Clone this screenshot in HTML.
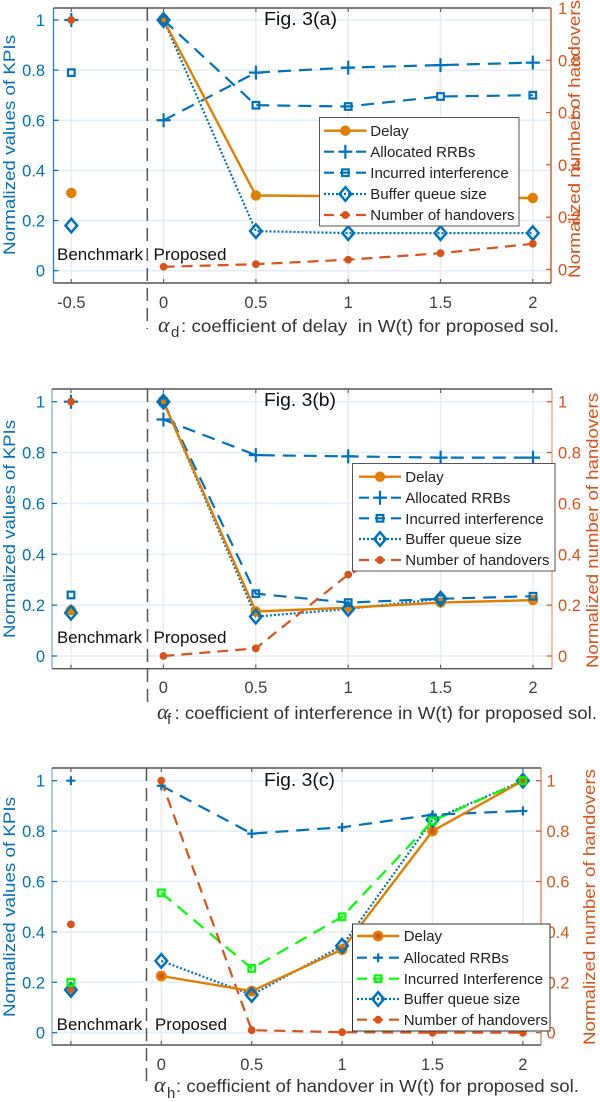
<!DOCTYPE html>
<html>
<head>
<meta charset="utf-8">
<title>Fig. 3 KPI charts</title>
<style>
html,body{margin:0;padding:0;background:#fff;}
svg{display:block;font-family:"Liberation Sans",sans-serif;}
.tt{font-size:17px;fill:#0072BD;}
.rt{font-size:17px;fill:#D95319;}
.ann{font-size:16.5px;fill:#111;}
.fig{font-size:18px;fill:#111;}
.leg{font-size:15px;fill:#222;}
.xl{font-size:17.5px;fill:#333;white-space:pre;}
.al{font-family:"Liberation Serif",serif;font-style:italic;font-size:22px;}
.sb{font-size:15px;}
</style>
</head>
<body>
<svg id="chart" xmlns="http://www.w3.org/2000/svg" width="600" height="1102" viewBox="0 0 600 1102">
  <rect x="0" y="0" width="600" height="1102" fill="#fff"/>

  <g id="panel-a">
    <g id="frame-a"></g>
    <g id="marks-a"></g>
    <text class="ann" x="57" y="260" textLength="86" lengthAdjust="spacingAndGlyphs">Benchmark</text>
    <text class="ann" x="153.5" y="260" textLength="73" lengthAdjust="spacingAndGlyphs">Proposed</text>
    <text class="fig" x="264" y="25" textLength="73" lengthAdjust="spacingAndGlyphs">Fig. 3(a)</text>
    <text class="tt" transform="translate(15,255) rotate(-90)" textLength="220" lengthAdjust="spacingAndGlyphs">Normalized values of KPIs</text>
    <text class="rt" transform="translate(580,278) rotate(-90)" textLength="278" lengthAdjust="spacingAndGlyphs">Normalized number of handovers</text>
    <text class="xl"><tspan class="al" x="158" y="332">α</tspan><tspan class="sb" x="171" y="337">d</tspan><tspan x="181" y="332" textLength="378" lengthAdjust="spacingAndGlyphs">: coefficient of delay  in W(t) for proposed sol.</tspan></text>
    <rect x="319.5" y="117.5" width="199.5" height="108.5" fill="#fff" stroke="#555" stroke-width="1"/>
    <g id="legend-a"></g>
    <text class="leg" x="370.3" y="136">Delay</text>
    <text class="leg" x="370.3" y="157">Allocated RRBs</text>
    <text class="leg" x="370.3" y="178">Incurred interference</text>
    <text class="leg" x="370.3" y="199">Buffer queue size</text>
    <text class="leg" x="370.3" y="220">Number of handovers</text>
  </g>

  <g id="panel-b">
    <g id="frame-b"></g>
    <g id="marks-b"></g>
    <text class="ann" x="57" y="643" textLength="85" lengthAdjust="spacingAndGlyphs">Benchmark</text>
    <text class="ann" x="153.5" y="643" textLength="73" lengthAdjust="spacingAndGlyphs">Proposed</text>
    <text class="fig" x="264" y="406" textLength="72" lengthAdjust="spacingAndGlyphs">Fig. 3(b)</text>
    <text class="tt" transform="translate(15,638) rotate(-90)" textLength="218" lengthAdjust="spacingAndGlyphs">Normalized values of KPIs</text>
    <text class="rt" transform="translate(598,668) rotate(-90)" textLength="275" lengthAdjust="spacingAndGlyphs">Normalized number of handovers</text>
    <text class="xl"><tspan class="al" x="157" y="719">α</tspan><tspan class="sb" x="167" y="724">f</tspan><tspan x="174.5" y="719" textLength="422.5" lengthAdjust="spacingAndGlyphs">: coefficient of interference in W(t) for proposed sol.</tspan></text>
    <rect x="352.5" y="463.5" width="202.5" height="107.5" fill="#fff" stroke="#555" stroke-width="1"/>
    <g id="legend-b"></g>
    <text class="leg" x="405.3" y="482">Delay</text>
    <text class="leg" x="405.3" y="503">Allocated RRBs</text>
    <text class="leg" x="405.3" y="524">Incurred interference</text>
    <text class="leg" x="405.3" y="544">Buffer queue size</text>
    <text class="leg" x="405.3" y="565">Number of handovers</text>
  </g>

  <g id="panel-c">
    <g id="frame-c"></g>
    <g id="marks-c"></g>
    <text class="ann" x="56.7" y="1030" textLength="85.5" lengthAdjust="spacingAndGlyphs">Benchmark</text>
    <text class="ann" x="155" y="1030" textLength="72" lengthAdjust="spacingAndGlyphs">Proposed</text>
    <text class="fig" x="264" y="786" textLength="71" lengthAdjust="spacingAndGlyphs">Fig. 3(c)</text>
    <text class="tt" transform="translate(15,1017) rotate(-90)" textLength="220" lengthAdjust="spacingAndGlyphs">Normalized values of KPIs</text>
    <text class="rt" transform="translate(595,1045) rotate(-90)" textLength="276" lengthAdjust="spacingAndGlyphs">Normalized number of handovers</text>
    <text class="xl"><tspan class="al" x="154" y="1092">α</tspan><tspan class="sb" x="167" y="1098">h</tspan><tspan x="176" y="1092" textLength="403" lengthAdjust="spacingAndGlyphs">: coefficient of handover in W(t) for proposed sol.</tspan></text>
    <rect x="352.5" y="924" width="197.5" height="107" fill="#fff" stroke="#333" stroke-width="1"/>
    <g id="legend-c"></g>
    <text class="leg" x="403.7" y="941">Delay</text>
    <text class="leg" x="403.7" y="963">Allocated RRBs</text>
    <text class="leg" x="403.7" y="984">Incurred Interference</text>
    <text class="leg" x="403.7" y="1004">Buffer queue size</text>
    <text class="leg" x="403.7" y="1025">Number of handovers</text>
  </g>
</svg>

<script>
// ---- data ----
const xValues = [-0.5, 0, 0.5, 1, 1.5, 2];
const xTickLabelsA = ['-0.5', '0', '0.5', '1', '1.5', '2'];
const xTickLabelsB = ['', '0', '0.5', '1', '1.5', '2'];
const xTickLabelsC = ['', '0', '0.5', '1', '1.5', '2'];
const yTickValues = [0, 0.2, 0.4, 0.6, 0.8, 1];
const yTickLabels = ['0', '0.2', '0.4', '0.6', '0.8', '1'];

const aDelay = [0.31, 1, 0.30, 0.297, 0.293, 0.29];
const aRRB = [1, 0.60, 0.79, 0.81, 0.82, 0.83];
const aInterference = [0.79, 1, 0.66, 0.655, 0.695, 0.70];
const aBuffer = [0.18, 1, 0.158, 0.15, 0.15, 0.15];
const aHandovers = [0.954, 0.010, 0.020, 0.037, 0.062, 0.098];

const bDelay = [0.18, 1, 0.175, 0.19, 0.21, 0.22];
const bRRB = [1, 0.93, 0.79, 0.785, 0.78, 0.78];
const bInterference = [0.24, 1, 0.245, 0.21, 0.225, 0.235];
const bBuffer = [0.17, 1, 0.155, 0.185, 0.225, null];
const bHandovers = [1, 0, 0.03, 0.32, 0.5, 0.7];

const cDelay = [0.17, 0.225, 0.165, 0.33, 0.80, 1];
const cRRB = [1, 0.98, 0.79, 0.815, 0.865, 0.88];
const cInterference = [0.20, 0.555, 0.255, 0.46, 0.84, 1];
const cBuffer = [0.17, 0.285, 0.15, 0.345, 0.845, 1];
const cHandovers = [0.43, 1, 0.01, 0.002, 0, 0];

// ---- drawing ----
const NS = 'http://www.w3.org/2000/svg';
const BLUE = '#0072BD', RED = '#D95319', ORANGE = '#E07F00', GREEN = '#00FF00';

function mk(tag, attrs, parent) {
  const e = document.createElementNS(NS, tag);
  for (const k in attrs) e.setAttribute(k, attrs[k]);
  parent.appendChild(e);
  return e;
}

function seg(parent, x1, y1, x2, y2, color, width, name, dash) {
  const l = mk('line', {x1: x1, y1: y1, x2: x2, y2: y2, stroke: color, 'stroke-width': width}, parent);
  if (dash) l.setAttribute('stroke-dasharray', dash);
  
  
  return l;
}

function drawMarker(parent, kind, cx, cy, color, size, name) {
  const g = mk('g', {}, parent);
  
  
  if (kind === 'circle') {
    mk('circle', {cx: cx, cy: cy, r: 5.2, fill: color}, g);
  } else if (kind === 'circleDot') {
    mk('circle', {cx: cx, cy: cy, r: 5.4, fill: color}, g);
    mk('circle', {cx: cx, cy: cy, r: 2.8, fill: RED}, g);
  } else if (kind === 'dot') {
    mk('circle', {cx: cx, cy: cy, r: 3.9, fill: color}, g);
  } else if (kind === 'plus') {
    mk('path', {d: 'M' + (cx - size) + ' ' + cy + 'H' + (cx + size) + 'M' + cx + ' ' + (cy - size) + 'V' + (cy + size), stroke: color, 'stroke-width': 2.2, fill: 'none'}, g);
  } else if (kind === 'square') {
    mk('rect', {x: cx - 3.3, y: cy - 3.3, width: 6.6, height: 6.6, fill: 'none', stroke: color, 'stroke-width': 2.2}, g);
  } else if (kind === 'diamond') {
    mk('path', {d: 'M' + cx + ' ' + (cy - 6.8) + 'L' + (cx + 5.8) + ' ' + cy + 'L' + cx + ' ' + (cy + 6.8) + 'L' + (cx - 5.8) + ' ' + cy + 'Z', fill: 'none', stroke: color, 'stroke-width': 2.5}, g);
  }
  return g;
}

function drawPanel(id, box, xLabels, series, legendRows, legendLine, plusSize) {
  const xScale = function (v) { return box.x0 + (v / 0.5) * box.step; };
  const yLeft = function (v) { return box.y0 + (box.y1 - box.y0) * v; };
  const yRight = function (v) { return box.ry0 + (box.ry1 - box.ry0) * v; };
  const frame = document.getElementById('frame-' + id);
  const marks = document.getElementById('marks-' + id);
  const legend = document.getElementById('legend-' + id);

  // grid
  yTickValues.forEach(function (v) {
    seg(frame, box.left, yLeft(v), box.right, yLeft(v), '#E3EEF7', 1.6, 'grid-line-y');
  });
  xValues.forEach(function (v) {
    seg(frame, xScale(v), box.top, xScale(v), box.bottom, '#E9ECEF', 1.6, 'grid-line-x');
  });

  // axes
  seg(frame, box.left, box.top, box.left, box.bottom, box.leftColor, 1.4, 'y-axis-left');
  seg(frame, box.right, box.top, box.right, box.bottom, box.rightColor, 1.4, 'y-axis-right');
  seg(frame, box.left, box.bottom, box.right, box.bottom, '#555', 1.4, 'x-axis');
  seg(frame, box.left, box.top, box.right, box.top, '#555', 1.4, 'top-axis');

  // ticks and labels
  xValues.forEach(function (v, i) {
    seg(frame, xScale(v), box.bottom, xScale(v), box.bottom - 4, '#666', 1.2, 'x-tick');
    seg(frame, xScale(v), box.top, xScale(v), box.top + 4, '#666', 1.2, 'x-tick-top');
    if (xLabels[i]) {
      const t = mk('text', {x: xScale(v), y: box.xLabelY, 'text-anchor': 'middle', 'font-size': 16.5, fill: '#404040'}, frame);
      t.textContent = xLabels[i];
      
      
    }
  });
  yTickValues.forEach(function (v, i) {
    seg(frame, box.left, yLeft(v), box.left + 5, yLeft(v), BLUE, 1.2, 'y-tick-left');
    const t = mk('text', {x: 45, y: yLeft(v) + 6, 'text-anchor': 'end', 'font-size': 16.5, fill: BLUE}, frame);
    t.textContent = yTickLabels[i];
    
    
    seg(frame, box.right, yRight(v), box.right - 5, yRight(v), RED, 1.2, 'y-tick-right');
    const r = mk('text', {x: box.rightLabelX, y: yRight(v) + 6, 'font-size': 16.5, fill: RED}, frame);
    r.textContent = yTickLabels[i];
    
    
  });

  // benchmark/proposed divider
  seg(frame, box.divider, box.top, box.divider, box.dividerEnd, '#555', 1.5, 'benchmark-divider', '13 7');

  // series lines (benchmark point at index 0 is not connected)
  series.forEach(function (s) {
    const y = s.axis === 'right' ? yRight : yLeft;
    let pts = '';
    for (let i = 1; i < xValues.length; i++) {
      if (s.values[i] === null) continue;
      pts += xScale(xValues[i]).toFixed(1) + ',' + y(s.values[i]).toFixed(1) + ' ';
    }
    const p = mk('polyline', {points: pts, fill: 'none', stroke: s.color, 'stroke-width': s.width}, marks);
    if (s.dash) p.setAttribute('stroke-dasharray', s.dash);
    
    
  });

  // series markers, delay first so the others sit on top of it
  series.slice().sort(function (a, b) { return a.z - b.z; }).forEach(function (s) {
    const y = s.axis === 'right' ? yRight : yLeft;
    for (let i = 0; i < xValues.length; i++) {
      if (s.values[i] === null) continue;
      drawMarker(marks, s.kind, xScale(xValues[i]), y(s.values[i]), s.color, plusSize, s.name + '-marker');
    }
  });

  // legend samples
  series.slice().sort(function (a, b) { return a.row - b.row; }).forEach(function (s, i) {
    const yy = legendRows[i];
    seg(legend, legendLine[0], yy, legendLine[1], yy, s.color, s.width, 'legend-line-' + s.name, s.legendDash);
    drawMarker(legend, s.kind, (legendLine[0] + legendLine[1]) / 2, yy, s.color, plusSize, 'legend-marker-' + s.name);
  });
}

function makeSeries(delay, rrb, interference, buffer, handovers, interferenceColor, delayKind) {
  return [
    {name: 'buffer-queue-size', values: buffer, axis: 'left', color: BLUE, width: 2.2, dash: '2 2', legendDash: '2 2', kind: 'diamond', z: 2, row: 3},
    {name: 'incurred-interference', values: interference, axis: 'left', color: interferenceColor, width: 2.2, dash: '13 8', legendDash: '10 6', kind: 'square', z: 4, row: 2},
    {name: 'allocated-rrbs', values: rrb, axis: 'left', color: BLUE, width: 2.2, dash: '13 8', legendDash: '10 6', kind: 'plus', z: 3, row: 1},
    {name: 'number-of-handovers', values: handovers, axis: 'right', color: RED, width: 2.2, dash: '11 7', legendDash: '10 6', kind: 'dot', z: 5, row: 4},
    {name: 'delay', values: delay, axis: 'left', color: ORANGE, width: 2.4, dash: '', legendDash: '', kind: delayKind, z: 1, row: 0}
  ];
}

drawPanel('a',
  {x0: 163.6, step: 92.3, y0: 270.7, y1: 20, ry0: 269.4, ry1: 8, left: 53.5, right: 551, top: 8, bottom: 283, xLabelY: 308, rightLabelX: 558, leftColor: '#3b83bd', rightColor: RED, divider: 147.3, dividerEnd: 329},
  xTickLabelsA,
  makeSeries(aDelay, aRRB, aInterference, aBuffer, aHandovers, BLUE, 'circle'),
  [130.7, 151.7, 172.7, 194, 215], [324, 366.7], 7);

drawPanel('b',
  {x0: 163.4, step: 92.4, y0: 656, y1: 401.7, ry0: 656, ry1: 401.7, left: 52, right: 552, top: 389, bottom: 668.7, xLabelY: 693, rightLabelX: 558, leftColor: '#7db8e4', rightColor: '#F0A98A', divider: 147.5, dividerEnd: 708},
  xTickLabelsB,
  makeSeries(bDelay, bRRB, bInterference, bBuffer, bHandovers, BLUE, 'circle'),
  [476.7, 497.7, 518.3, 539, 560], [359, 401], 7);

drawPanel('c',
  {x0: 161.3, step: 90.4, y0: 1032.7, y1: 780.7, ry0: 1032.7, ry1: 780.7, left: 52, right: 541, top: 768, bottom: 1045, xLabelY: 1070, rightLabelX: 546.5, leftColor: '#7db8e4', rightColor: '#E58A63', divider: 146.5, dividerEnd: 1088},
  xTickLabelsC,
  makeSeries(cDelay, cRRB, cInterference, cBuffer, cHandovers, GREEN, 'circleDot'),
  [936, 957.7, 978.7, 999, 1019.7], [357, 399.3], 4.5);
</script>
</body>
</html>
